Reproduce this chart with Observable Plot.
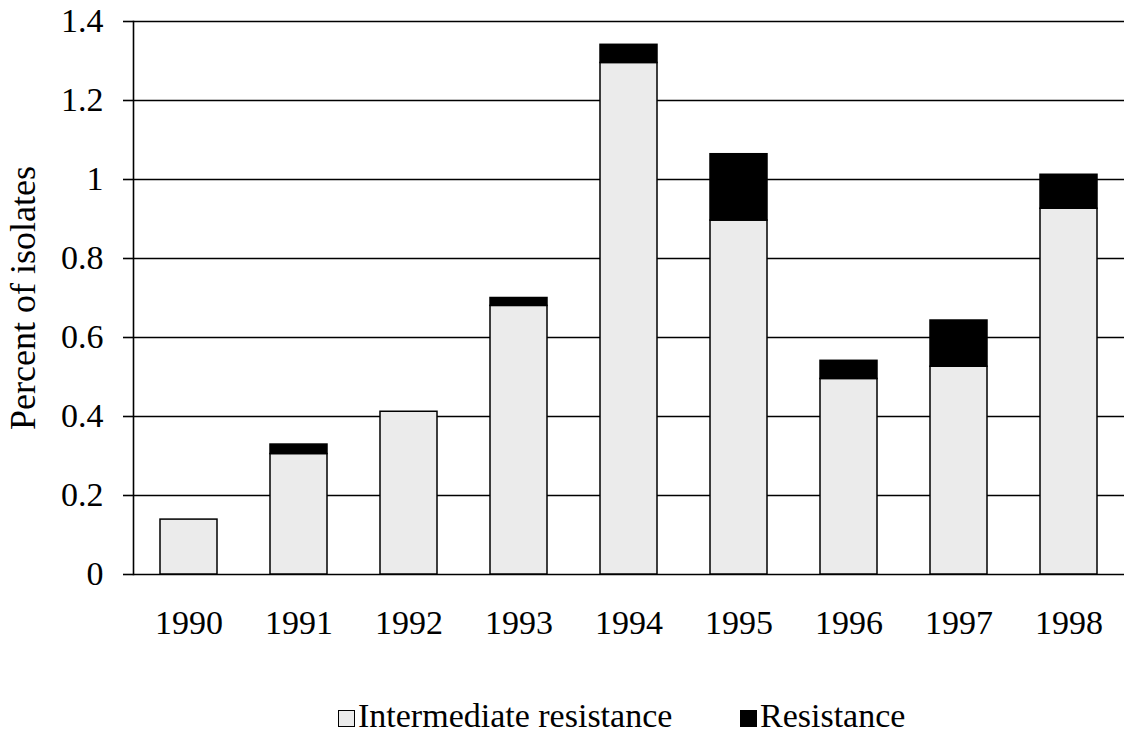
<!DOCTYPE html>
<html>
<head>
<meta charset="utf-8">
<script src="https://cdn.jsdelivr.net/npm/d3@7"></script>
<script src="https://cdn.jsdelivr.net/npm/@observablehq/plot@0.6"></script>
<style>
  html, body { margin: 0; padding: 0; background: #fff; }
  body { width: 1124px; height: 736px; overflow: hidden; font-family: 'Liberation Serif', serif; }
  #legend { position: relative; height: 66px; font-size: 34px; color: #000; }
  .item { position: absolute; top: 27px; display: flex; align-items: center; white-space: nowrap; }
  .sw { width: 15px; height: 15px; border: 1px solid #000; margin-right: 3px; margin-top: 4px; }
</style>
</head>
<body>
<div id="chart"></div>
<div id="legend"></div>
<script>
const years = ["1990","1991","1992","1993","1994","1995","1996","1997","1998"];
const intermediate = [0.139, 0.305, 0.412, 0.680, 1.295, 0.896, 0.495, 0.526, 0.926];
const resistance   = [0.000, 0.024, 0.000, 0.020, 0.046, 0.168, 0.046, 0.117, 0.086];
const seriesNames = ["Intermediate resistance", "Resistance"];
const seriesColors = ["#ebebeb", "#000000"];
const yTicks = [0, 0.2, 0.4, 0.6, 0.8, 1, 1.2, 1.4];
const yTickLabels = ["0", "0.2", "0.4", "0.6", "0.8", "1", "1.2", "1.4"];
const yLabel = "Percent of isolates";

const data = [];
years.forEach((y, i) => data.push({year: y, series: seriesNames[0], value: intermediate[i]}));
years.forEach((y, i) => data.push({year: y, series: seriesNames[1], value: resistance[i]}));

const font = "'Liberation Serif', serif";

const chart = Plot.plot({
  width: 1124,
  height: 670,
  marginLeft: 133,
  marginRight: 0,
  marginTop: 21,
  marginBottom: 96,
  style: {fontFamily: font, fontSize: "34px", color: "#000", background: "#fff"},
  x: {domain: years, paddingInner: 0.48, paddingOuter: 0.24, label: null},
  y: {domain: [0, 1.4], label: null},
  color: {domain: seriesNames, range: seriesColors},
  marks: [
    Plot.ruleY(yTicks, {stroke: "#000", strokeWidth: 1.6}),
    Plot.barY(data, {x: "year", y: "value", fill: "series", stroke: "#000", strokeWidth: 1.5}),
    Plot.axisY({ticks: yTicks, tickFormat: (d) => yTickLabels[yTicks.indexOf(d)], tickSize: 10, tickPadding: 20, strokeWidth: 1.6, fontSize: 34, label: null}),
    Plot.axisY({ticks: [], tickSize: 0, fontSize: 36, label: yLabel, labelAnchor: "center", labelArrow: "none", labelOffset: 124}),
    Plot.axisX({tickSize: 0, tickPadding: 35, fontSize: 34, label: null}),
    Plot.frame({anchor: "left", stroke: "#000", strokeWidth: 1.6})
  ]
});
document.getElementById("chart").appendChild(chart);

const legend = document.getElementById("legend");
const lefts = [338, 740];
seriesNames.forEach((name, i) => {
  const item = document.createElement("div");
  item.className = "item";
  item.style.left = lefts[i] + "px";
  const sw = document.createElement("span");
  sw.className = "sw";
  sw.style.background = seriesColors[i];
  const t = document.createElement("span");
  t.textContent = name;
  item.appendChild(sw);
  item.appendChild(t);
  legend.appendChild(item);
});
</script>
</body>
</html>
